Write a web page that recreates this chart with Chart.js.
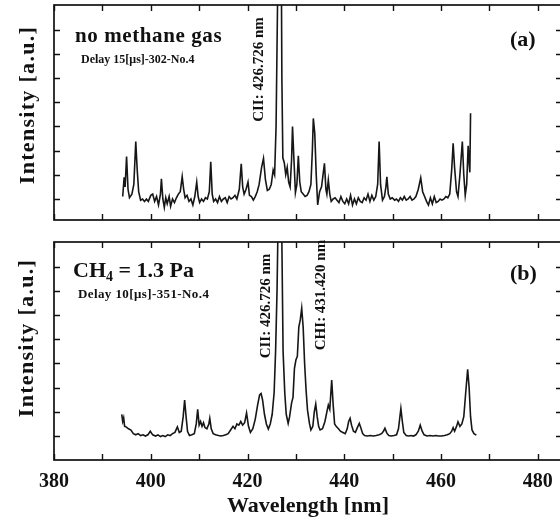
<!DOCTYPE html>
<html><head><meta charset="utf-8">
<script src="https://cdn.jsdelivr.net/npm/chart.js@4.4.1/dist/chart.umd.min.js"></script>
<style>
html,body{margin:0;padding:0;background:#fff;}
#wrap{position:relative;width:560px;height:520px;overflow:hidden;background:#fff;}
canvas{position:absolute;left:0;}
</style></head><body>
<div id="wrap">
<canvas id="ca" width="566" height="230" style="top:0"></canvas>
<canvas id="cb" width="566" height="290" style="top:230px"></canvas>
</div>
<script>
// ---- Panel (a): no methane gas ----
const wavelengthA = [394.2,394.5,394.7,395.0,395.3,395.6,396.1,396.5,396.9,397.2,397.5,397.9,398.3,398.7,399.1,399.5,400.0,400.4,400.8,401.2,401.6,402.0,402.2,402.5,402.8,403.1,403.4,403.8,404.1,404.5,404.9,405.3,405.7,406.1,406.5,406.8,407.1,407.5,407.9,408.3,408.7,409.1,409.5,409.8,410.1,410.5,410.9,411.3,411.7,412.1,412.4,412.7,413.0,413.4,413.8,414.2,414.6,415.0,415.4,415.8,416.2,416.6,417.0,417.4,417.8,418.3,418.7,419.0,419.3,419.7,420.1,420.4,420.8,421.2,421.6,422.0,422.4,422.9,423.3,423.7,424.1,424.5,424.9,425.3,425.6,425.9,426.2,426.5,426.9,427.1,427.3,427.6,427.9,428.2,428.5,428.8,429.1,429.3,429.6,429.9,430.2,430.5,430.8,431.1,431.5,431.9,432.3,432.7,433.1,433.4,433.6,433.9,434.2,434.5,434.9,435.3,435.9,436.2,436.4,436.7,437.0,437.3,437.7,438.1,438.5,438.9,439.3,439.7,440.1,440.5,440.9,441.3,441.7,442.1,442.5,442.9,443.3,443.7,444.1,444.5,444.9,445.3,445.7,446.1,446.5,446.9,447.2,447.5,447.9,448.3,448.6,448.8,449.1,449.5,449.9,450.4,450.8,451.2,451.6,452.0,452.4,452.8,453.2,453.6,454.0,454.4,454.8,455.3,455.8,456.2,456.6,457.0,457.4,457.8,458.2,458.6,459.0,459.4,459.8,460.2,460.6,461.0,461.4,461.8,462.2,462.5,462.8,463.2,463.5,463.9,464.4,464.7,465.0,465.3,465.6,465.8,465.95,466.1];
const intensityA = [1.1,1.9,1.5,2.75,1.4,1.05,1.2,1.6,3.37,2.2,1.3,0.95,1.0,0.9,1.0,0.9,1.15,1.2,0.9,1.1,0.75,1.2,1.83,1.0,0.65,1.05,0.8,1.1,0.7,1.0,0.85,1.05,1.2,1.3,1.92,1.4,1.05,1.15,0.9,1.0,0.75,1.1,1.7,1.1,0.85,1.0,0.9,1.05,1.0,1.3,2.54,1.2,0.9,1.0,0.85,1.1,0.9,1.0,1.05,0.85,1.1,1.0,1.05,1.15,1.0,1.4,2.45,1.5,1.2,1.4,1.7,1.15,1.1,0.95,1.1,1.3,1.6,2.3,2.68,1.8,1.35,1.4,1.6,2.2,2.0,4.0,9.0,14,14,6.0,2.7,2.5,2.0,2.3,1.7,1.5,2.6,3.99,2.6,1.26,1.6,2.78,1.7,1.3,1.2,1.1,1.15,1.3,1.6,3.0,4.33,3.7,2.0,0.75,1.3,1.5,2.47,1.4,1.2,1.78,1.2,0.9,1.0,1.05,0.95,0.85,1.1,0.9,0.8,1.0,0.8,1.15,0.75,1.0,0.8,1.05,0.9,0.85,1.05,0.95,1.2,0.9,1.15,0.95,1.1,1.6,3.37,1.6,0.95,1.1,1.5,1.92,1.2,1.0,1.05,0.95,1.0,0.9,1.05,0.95,1.1,0.95,1.0,1.1,0.95,1.0,1.1,1.4,1.87,1.3,1.1,0.9,0.75,1.05,0.8,1.1,0.85,0.9,1.0,0.95,1.0,1.1,1.05,1.2,2.2,3.3,2.3,1.3,1.1,2.0,3.37,2.0,1.15,1.6,3.2,2.5,2.1,4.54];

// ---- Panel (b): CH4 = 1.3 Pa ----
const wavelengthB = [394.0,394.2,394.4,394.6,394.9,395.4,395.9,396.4,396.9,397.4,397.9,398.4,398.9,399.4,399.9,400.4,401.0,401.5,402.0,402.5,403.0,403.5,404.0,404.5,405.0,405.5,405.9,406.3,406.7,407.0,407.3,407.6,408.0,408.5,409.0,409.4,409.7,410.0,410.3,410.6,410.9,411.2,411.6,412.0,412.2,412.5,412.9,413.4,414.0,414.5,415.0,415.5,416.0,416.5,417.0,417.4,417.8,418.2,418.6,419.0,419.4,419.8,420.2,420.6,421.1,421.6,422.1,422.5,422.8,423.1,423.5,423.9,424.3,424.7,425.1,425.5,425.8,426.1,426.4,426.6,426.9,427.1,427.35,427.7,428.0,428.4,428.7,429.1,429.4,429.7,430.0,430.3,430.6,430.9,431.2,431.5,431.8,432.1,432.4,432.8,433.1,433.5,433.8,434.1,434.4,434.7,435.0,435.5,436.0,436.4,436.7,437.0,437.2,437.4,437.7,438.0,438.4,438.8,439.2,439.7,440.2,440.6,440.9,441.2,441.5,441.9,442.3,442.7,443.1,443.4,443.8,444.2,444.8,445.4,446.0,446.6,447.2,447.7,448.1,448.4,448.8,449.2,449.7,450.3,450.8,451.2,451.5,451.7,452.0,452.3,452.8,453.3,453.8,454.3,454.8,455.3,455.7,456.1,456.5,457.1,457.7,458.3,458.9,459.5,460.1,460.7,461.3,461.8,462.2,462.5,462.8,463.2,463.5,463.9,464.3,464.7,465.1,465.5,465.8,466.1,466.4,466.8,467.3];
const intensityB = [1.9,1.6,1.75,1.4,1.38,1.3,1.25,1.1,1.05,1.1,1.02,1.05,1.0,1.05,1.2,1.05,1.0,1.05,0.98,1.02,0.98,1.05,1.02,1.1,1.15,1.38,1.15,1.2,1.8,2.49,1.8,1.2,1.02,1.05,1.1,1.5,2.1,1.45,1.6,1.4,1.55,1.35,1.3,1.5,1.73,1.3,1.1,1.05,1.02,1.0,1.02,1.05,1.1,1.25,1.4,1.3,1.5,1.45,1.6,1.45,1.55,1.95,1.4,1.15,1.3,1.7,2.3,2.7,2.76,2.5,1.9,1.5,1.29,1.5,1.9,2.8,4.5,7.0,11,14,14,9.0,4.5,2.78,1.9,1.52,1.8,2.36,2.6,3.8,4.14,4.3,5.5,5.8,6.28,5.5,4.0,2.9,2.07,1.52,1.25,1.4,2.0,2.32,1.8,1.4,1.25,1.3,1.6,2.0,2.28,2.1,2.7,3.31,2.3,1.5,1.38,1.3,1.2,1.15,1.1,1.3,1.6,1.73,1.45,1.2,1.15,1.35,1.52,1.35,1.1,1.02,1.0,1.02,1.0,1.02,1.05,1.1,1.2,1.32,1.12,1.02,1.0,1.02,1.05,1.3,1.8,2.14,1.6,1.15,1.02,1.0,1.02,1.0,1.05,1.2,1.45,1.2,1.05,1.0,1.02,1.0,1.02,1.0,1.0,1.02,1.05,1.1,1.2,1.35,1.2,1.4,1.59,1.4,1.5,1.8,2.8,3.76,3.0,1.8,1.25,1.1,1.04];

// ---- Axis ticks ----
const xTickLabels = [380, 400, 420, 440, 460, 480];
const xMinorTicks = [380, 390, 400, 410, 420, 430, 440, 450, 460, 470, 480];
const yTicks = [1, 2, 3, 4, 5, 6, 7, 8];

const SERIF = "'Liberation Serif', 'DejaVu Serif', serif";

const framePlugin = {
  id: 'frame',
  afterDatasetsDraw(chart) {
    const {ctx, chartArea: {left, right, top, bottom}, scales: {x, y}} = chart;
    ctx.save();
    ctx.strokeStyle = '#111';
    ctx.lineWidth = 1.7;
    ctx.strokeRect(left, top, right - left, bottom - top);
    ctx.lineWidth = 1.4;
    const tl = 6;
    ctx.beginPath();
    xMinorTicks.forEach(v => {
      const px = Math.round(x.getPixelForValue(v)) + 0.5;
      ctx.moveTo(px, top); ctx.lineTo(px, top + tl);
      ctx.moveTo(px, bottom); ctx.lineTo(px, bottom - tl);
    });
    yTicks.forEach(v => {
      const py = Math.round(y.getPixelForValue(v)) + 0.5;
      ctx.moveTo(left, py); ctx.lineTo(left + tl, py);
      ctx.moveTo(right, py); ctx.lineTo(right - tl, py);
    });
    ctx.stroke();
    ctx.restore();
  }
};

const textPlugin = {
  id: 'panelText',
  afterDraw(chart, args, opts) {
    const ctx = chart.ctx;
    (opts.items || []).forEach(it => {
      ctx.save();
      ctx.fillStyle = '#111';
      if ('letterSpacing' in ctx) ctx.letterSpacing = (it.ls || 0) + 'px';
      ctx.translate(it.x, it.y);
      if (it.rot) ctx.rotate(it.rot);
      ctx.textBaseline = it.baseline || 'alphabetic';
      const parts = it.parts || [{t: it.text, size: it.size}];
      let total = 0;
      parts.forEach(p => { ctx.font = 'bold ' + p.size + 'px ' + SERIF; p.w = ctx.measureText(p.t).width; total += p.w; });
      let cx = it.align === 'center' ? -total / 2 : 0;
      parts.forEach(p => {
        ctx.font = 'bold ' + p.size + 'px ' + SERIF;
        ctx.textAlign = 'left';
        ctx.fillText(p.t, cx, p.dy || 0);
        cx += p.w;
      });
      ctx.restore();
    });
  }
};

function lineData(xs, ys) { return xs.map((w, i) => ({x: w, y: ys[i]})); }

const ds = (xs, ys) => ({
  data: lineData(xs, ys), borderColor: '#161616', borderWidth: 1.6,
  pointRadius: 0, tension: 0, fill: false, borderJoinStyle: 'miter'
});

new Chart(document.getElementById('ca'), {
  type: 'line',
  data: {datasets: [ds(wavelengthA, intensityA)]},
  options: {
    responsive: false, animation: false, events: [],
    layout: {padding: {left: 54, right: 4, top: 5, bottom: 10}},
    plugins: {
      legend: {display: false}, tooltip: {enabled: false},
      panelText: {items: [
        {text: 'no methane gas', size: 21, x: 75, y: 42, ls: 0.6},
        {text: 'Delay 15[μs]-302-No.4', size: 12, x: 81, y: 62.5, ls: 0},
        {text: '(a)', size: 22, x: 510, y: 46},
        {text: 'CII: 426.726 nm', size: 15, x: 259, y: 69.5, rot: -Math.PI / 2, align: 'center', baseline: 'middle'},
        {text: 'Intensity [a.u.]', size: 22, x: 28, y: 105, rot: -Math.PI / 2, align: 'center', baseline: 'middle', ls: 1.3}
      ]}
    },
    scales: {
      x: {type: 'linear', min: 380, max: 485, display: false},
      y: {type: 'linear', min: 0.13, max: 9.02, display: false}
    }
  },
  plugins: [framePlugin, textPlugin]
});

new Chart(document.getElementById('cb'), {
  type: 'line',
  data: {datasets: [ds(wavelengthB, intensityB)]},
  options: {
    responsive: false, animation: false, events: [],
    layout: {padding: {left: 54, right: 4, top: 12, bottom: 0}},
    plugins: {
      legend: {display: false}, tooltip: {enabled: false},
      panelText: {items: [
        {parts: [{t: 'CH', size: 22}, {t: '4', size: 14, dy: 4}, {t: ' = 1.3 Pa', size: 22}], x: 73, y: 46.7},
        {text: 'Delay 10[μs]-351-No.4', size: 13, x: 78, y: 67.7, ls: 0.4},
        {text: '(b)', size: 22, x: 510, y: 50},
        {text: 'CII: 426.726 nm', size: 15, x: 266.5, y: 76, rot: -Math.PI / 2, align: 'center', baseline: 'middle'},
        {text: 'CHI: 431.420 nm', size: 15, x: 321, y: 65, rot: -Math.PI / 2, align: 'center', baseline: 'middle'},
        {text: 'Intensity [a.u.]', size: 22, x: 27.5, y: 108, rot: -Math.PI / 2, align: 'center', baseline: 'middle', ls: 1.3}
      ]}
    },
    scales: {
      x: {
        type: 'linear', min: 380, max: 485,
        grid: {display: false, drawTicks: false}, border: {display: false},
        afterBuildTicks: s => { s.ticks = xTickLabels.map(v => ({value: v})); },
        afterFit: s => { s.height = 60; },
        ticks: {autoSkip: false, maxRotation: 0, padding: 10, color: '#111',
                font: {family: SERIF, size: 20, weight: 'bold'}},
        title: {display: true, text: 'Wavelength [nm]', color: '#111',
                font: {family: SERIF, size: 22, weight: 'bold'}, padding: {top: 0, bottom: 0}}
      },
      y: {type: 'linear', min: 0.01, max: 9.02, display: false}
    }
  },
  plugins: [framePlugin, textPlugin]
});
</script>
</body></html>
